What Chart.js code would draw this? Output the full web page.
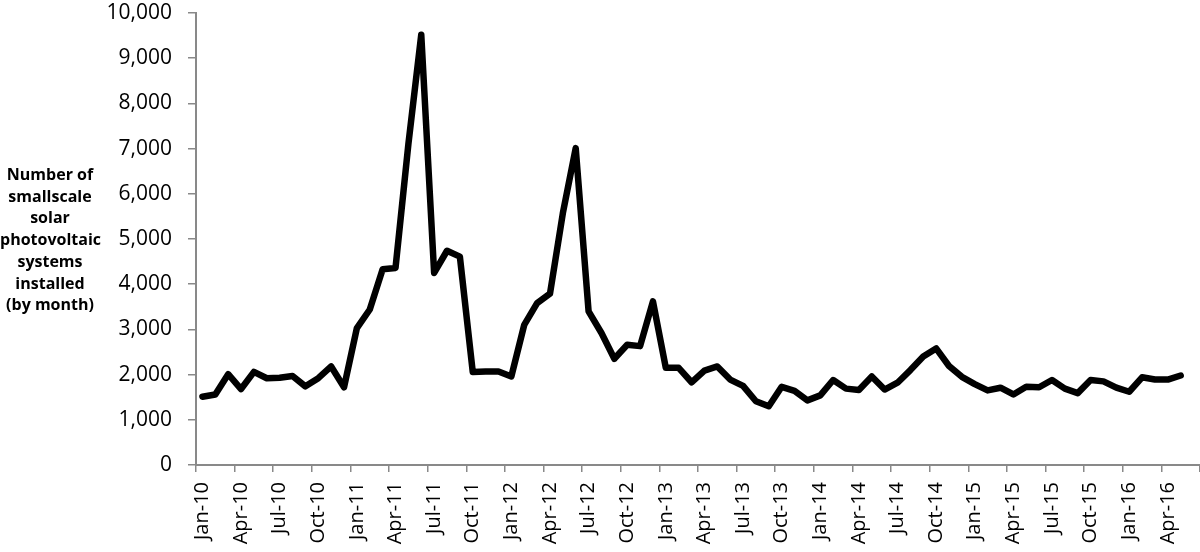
<!DOCTYPE html>
<html>
<head>
<meta charset="utf-8">
<script src="https://cdn.jsdelivr.net/npm/chart.js@4/dist/chart.umd.min.js"></script>
<style>
  html, body { margin: 0; padding: 0; background: #fff; }
  #wrap { position: relative; width: 1200px; height: 552px; }
  #ytitle {
    position: absolute; left: 0; top: 164px; width: 100px;
    font: bold 16px 'Open Sans', sans-serif; line-height: 21.7px;
    text-align: center; color: #000;
  }
</style>
</head>
<body>
<div id="wrap">
  <canvas id="chart"></canvas>
  <div id="ytitle">Number of<br>smallscale<br>solar<br>photovoltaic<br>systems<br>installed<br>(by month)</div>
</div>
<script>
// axis labels: Jan-10 .. Jun-16 (last month has no value)
const monthNames = ['Jan', 'Feb', 'Mar', 'Apr', 'May', 'Jun', 'Jul', 'Aug', 'Sep', 'Oct', 'Nov', 'Dec'];
const years = ['10', '11', '12', '13', '14', '15', '16'];
const lastMonthCount = 6; // months shown in 2016

// monthly installs, Jan-10 .. May-16
const installs = [
  1510, 1560, 2010, 1680, 2060, 1920, 1930, 1970, 1740, 1920, 2180, 1720,
  3030, 3440, 4330, 4360, 7100, 9520, 4250, 4740, 4610, 2060, 2070, 2070,
  1960, 3100, 3580, 3790, 5570, 7010, 3400, 2920, 2350, 2660, 2630, 3620,
  2150, 2150, 1830, 2090, 2180, 1890, 1750, 1410, 1300, 1730, 1640, 1430,
  1540, 1880, 1690, 1660, 1960, 1670, 1820, 2100, 2400, 2580, 2190, 1950,
  1790, 1650, 1710, 1560, 1730, 1720, 1880, 1690, 1590, 1880, 1850, 1710,
  1620, 1940, 1890, 1890, 1980
];

const yMin = 0;
const yMax = 10000;
const yStep = 1000;

const labels = [];
years.forEach((y, yi) => {
  const n = yi === years.length - 1 ? lastMonthCount : 12;
  for (let m = 0; m < n; m++) labels.push(monthNames[m] + '-' + y);
});

const axisColor = '#898989';
const font = "'Open Sans', sans-serif";

new Chart(document.getElementById('chart'), {
  type: 'line',
  data: {
    labels: labels,
    datasets: [{
      data: installs,
      borderColor: '#000',
      borderWidth: 6.5,
      borderJoinStyle: 'round',
      borderCapStyle: 'round',
      pointRadius: 0,
      tension: 0,
      fill: false
    }]
  },
  options: {
    responsive: true,
    maintainAspectRatio: false,
    animation: false,
    layout: { padding: { top: 0, right: 0, bottom: 0, left: 0 } },
    plugins: {
      legend: { display: false },
      tooltip: { enabled: false }
    },
    scales: {
      x: {
        offset: true,
        grid: {
          offset: true,
          drawOnChartArea: false,
          drawTicks: true,
          tickLength: 7,
          lineWidth: 1.5,
          color: (c) => (c.index === undefined || c.index % 3 === 0) ? axisColor : 'rgba(0,0,0,0)'
        },
        border: { display: true, color: axisColor, width: 2 },
        ticks: {
          autoSkip: false,
          minRotation: 90,
          maxRotation: 90,
          padding: 10,
          color: '#000',
          font: { family: font, size: 20 },
          callback: function (v, i) { return i % 3 === 0 ? this.getLabelForValue(v) : ''; }
        },
        afterFit: (s) => { s.height = 87; s.paddingLeft = 0; s.paddingRight = 0; }
      },
      y: {
        min: yMin,
        max: yMax,
        grid: {
          drawOnChartArea: false,
          drawTicks: true,
          tickLength: 8,
          lineWidth: 1.5,
          color: axisColor
        },
        border: { display: true, color: axisColor, width: 2 },
        ticks: {
          stepSize: yStep,
          padding: 16,
          color: '#000',
          font: { family: font, size: 21 },
          callback: (v) => v.toLocaleString('en-US')
        },
        afterFit: (s) => { s.width = 196; s.paddingTop = 13; s.paddingBottom = 0; }
      }
    }
  }
});
</script>
</body>
</html>
